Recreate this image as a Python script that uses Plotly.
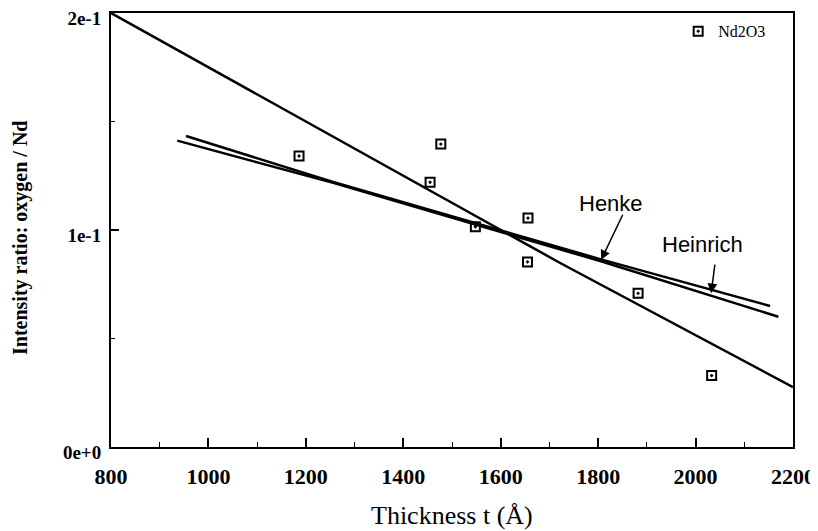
import plotly.graph_objects as go

# Measured data (Nd2O3)
thickness = [1186, 1477, 1455, 1548, 1656, 1655, 1882, 2033]
ratio = [0.1341, 0.1396, 0.1220, 0.1015, 0.1055, 0.0853, 0.0708, 0.0329]

# Fitted / model lines
steep_x = [800, 1195, 1722, 2200]
steep_y = [0.2, 0.1507, 0.0848, 0.0276]
henke_x = [954, 1256, 1804, 2153]
henke_y = [0.1433, 0.1221, 0.0866, 0.0650]
heinrich_x = [936, 1256, 1804, 2170]
heinrich_y = [0.1412, 0.1217, 0.0857, 0.0600]

x_ticks = [800, 1000, 1200, 1400, 1600, 1800, 2000, 2200]
y_ticks = [0, 0.1, 0.2]
y_ticktext = ["0e+0", "1e-1", "2e-1"]

serif = "Liberation Serif"
sans = "Liberation Sans"

fig = go.Figure()
line_style = dict(color="black", width=2.5)
fig.add_trace(go.Scatter(x=steep_x, y=steep_y, mode="lines", line=line_style, showlegend=False))
fig.add_trace(go.Scatter(x=henke_x, y=henke_y, mode="lines", line=line_style, showlegend=False))
fig.add_trace(go.Scatter(x=heinrich_x, y=heinrich_y, mode="lines", line=line_style, showlegend=False))
fig.add_trace(go.Scatter(
    x=thickness, y=ratio, mode="markers", name="Nd2O3",
    marker=dict(symbol="square-open-dot", size=9, color="black", line=dict(width=2, color="black")),
))

# Labels with arrows
fig.add_annotation(x=1826, y=0.1124, text="Henke", showarrow=False,
                   font=dict(family=sans, size=22, color="black"))
fig.add_annotation(x=2015, y=0.0931, text="Heinrich", showarrow=False,
                   font=dict(family=sans, size=22, color="black"))
fig.add_annotation(x=1806, y=0.0862, ax=1852, ay=0.1077, axref="x", ayref="y",
                   text="", showarrow=True, arrowhead=2, arrowsize=1.3, arrowwidth=1.5, arrowcolor="black")
fig.add_annotation(x=2032, y=0.0708, ax=2040, ay=0.0847, axref="x", ayref="y",
                   text="", showarrow=True, arrowhead=2, arrowsize=1.3, arrowwidth=1.5, arrowcolor="black")

# Axis titles as annotations (precise placement)
fig.add_annotation(xref="paper", yref="paper", x=0, y=0.5, xanchor="center", yanchor="middle",
                   xshift=-91, yshift=-8,
                   text="Intensity ratio: oxygen / Nd", textangle=-90, showarrow=False,
                   font=dict(family=serif, size=20, color="black", weight="bold"))
fig.add_annotation(xref="paper", yref="paper", x=0.5, y=0, xanchor="center", yanchor="middle",
                   yshift=-68,
                   text="Thickness t (Å)", showarrow=False,
                   font=dict(family=serif, size=26, color="black"))

fig.update_layout(
    width=818, height=531, autosize=False,
    margin=dict(l=103, r=33, t=5, b=92),
    paper_bgcolor="white", plot_bgcolor="white",
    showlegend=True,
    legend=dict(x=0.968, y=0.997, xanchor="right", yanchor="top",
                bgcolor="rgba(0,0,0,0)", font=dict(family=serif, size=16, color="black")),
)
fig.update_xaxes(
    range=[800, 2200], tickvals=x_ticks, ticks="inside", ticklen=9, tickwidth=1.5, tickcolor="black",
    minor=dict(dtick=100, ticks="inside", ticklen=5, tickwidth=1.2, tickcolor="black"),
    showline=True, linecolor="black", linewidth=2, mirror=True, showgrid=False, zeroline=False,
    tickfont=dict(family=serif, size=22, color="black", weight="bold"),
    ticklabelstandoff=9, automargin=False, ticklabeloverflow="allow",
)
fig.update_yaxes(
    range=[0, 0.2], tickvals=y_ticks, ticktext=y_ticktext, ticks="inside", ticklen=8, tickwidth=1.5,
    tickcolor="black",
    minor=dict(tickvals=[0.05, 0.15], ticks="inside", ticklen=4, tickwidth=1.2, tickcolor="black"),
    showline=True, linecolor="black", linewidth=2, mirror=True, showgrid=False, zeroline=False,
    tickfont=dict(family=serif, size=19, color="black", weight="bold"),
    ticklabelstandoff=4, ticklabelshift=5,
    automargin=False, ticklabeloverflow="allow",
)

fig.write_html("out.html")
